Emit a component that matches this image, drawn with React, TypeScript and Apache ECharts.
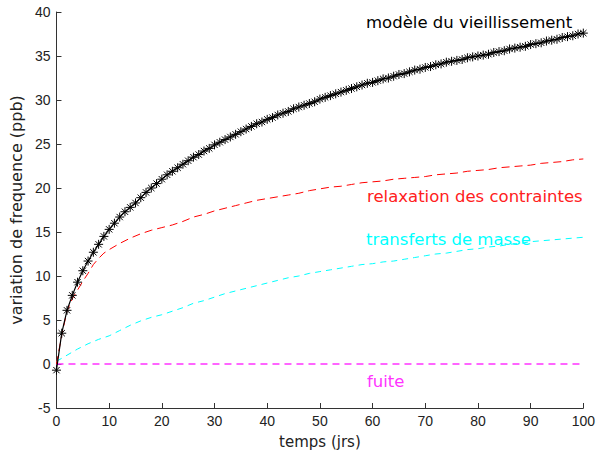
import React, { useEffect, useRef } from "react";
import * as echarts from "echarts";

const days: number[] = Array.from({ length: 101 }, (_, i) => i);

const vieillissement: number[] = [
  -0.7, 3.5, 6.1, 7.8, 9.3, 10.6, 11.7, 12.7, 13.6, 14.5,
  15.3, 16.0, 16.7, 17.3, 17.8, 18.3, 18.9, 19.5, 20.0, 20.5,
  21.0, 21.5, 21.9, 22.3, 22.7, 23.1, 23.5, 23.8, 24.2, 24.5,
  24.9, 25.2, 25.5, 25.8, 26.1, 26.4, 26.7, 27.0, 27.3, 27.5,
  27.8, 28.0, 28.3, 28.5, 28.7, 29.0, 29.2, 29.4, 29.6, 29.8,
  30.1, 30.3, 30.5, 30.7, 30.9, 31.1, 31.3, 31.5, 31.7, 31.9,
  32.0, 32.2, 32.4, 32.5, 32.7, 32.9, 33.0, 33.2, 33.4, 33.5,
  33.7, 33.8, 34.0, 34.1, 34.3, 34.4, 34.5, 34.6, 34.8, 34.9,
  35.0, 35.1, 35.2, 35.4, 35.5, 35.6, 35.8, 35.9, 36.0, 36.1,
  36.3, 36.4, 36.5, 36.7, 36.8, 36.9, 37.1, 37.2, 37.3, 37.5,
  37.6,
];

const relaxDays: number[] = [0, 1, 2, 3, 4, 5, 6, 7, 8, 9, 10, 12, 14, 16, 18, 20, 22, 24, 26, 28, 30, 32, 34, 36, 38, 40, 42, 44, 46, 48, 50, 52, 54, 56, 58, 60, 62, 64, 66, 68, 70, 72, 74, 76, 78, 80, 82, 84, 86, 88, 90, 92, 94, 96, 98, 100];
const relaxation: number[] = [
  0.0, 3.3, 6.0, 7.4, 8.4, 9.4, 10.3, 11.3, 12.0, 12.6, 13.0,
  13.7, 14.3, 14.8, 15.2, 15.5, 15.8, 16.2, 16.7, 17.0, 17.4,
  17.7, 18.0, 18.3, 18.6, 18.8, 19.0, 19.2, 19.4, 19.7, 19.9,
  20.1, 20.2, 20.4, 20.6, 20.7, 20.8, 21.0, 21.1, 21.2, 21.3,
  21.5, 21.6, 21.7, 21.9, 22.0, 22.1, 22.3, 22.4, 22.5, 22.6,
  22.8, 22.9, 23.0, 23.2, 23.3,
];

const transfDays: number[] = [0, 2, 4, 6, 8, 10, 12, 14, 16, 18, 20, 22, 24, 26, 28, 30, 32, 34, 36, 38, 40, 42, 44, 46, 48, 50, 52, 54, 56, 58, 60, 62, 64, 66, 68, 70, 72, 74, 76, 78, 80, 82, 84, 86, 88, 90, 92, 94, 96, 98, 100];
const transferts: number[] = [
  0.3, 1.0, 1.7, 2.3, 2.8, 3.2, 3.8, 4.4, 4.9, 5.3, 5.6,
  6.0, 6.4, 6.9, 7.2, 7.6, 8.0, 8.3, 8.6, 8.9, 9.2,
  9.5, 9.8, 10.0, 10.3, 10.5, 10.7, 10.9, 11.1, 11.3, 11.4,
  11.6, 11.7, 11.9, 12.1, 12.3, 12.5, 12.6, 12.8, 13.0, 13.1,
  13.3, 13.4, 13.6, 13.7, 13.9, 14.0, 14.1, 14.2, 14.3, 14.4,
];

const fuiteDays: number[] = [0, 100];
const fuite: number[] = [0, 0];

const xTicks = { min: 0, max: 100, interval: 10 };
const yTicks = { min: -5, max: 40, interval: 5 };

const labels = [
  { text: "modèle du vieillissement", color: "#000000" },
  { text: "relaxation des contraintes", color: "#ff2020" },
  { text: "transferts de masse", color: "#00ffff" },
  { text: "fuite", color: "#ff33ff" },
];

const ASTERISK = "path://M5,0L5,10M0,5L10,5M1.5,1.5L8.5,8.5M1.5,8.5L8.5,1.5";

export default function App() {
  const ref = useRef<HTMLDivElement>(null);
  useEffect(() => {
    if (!ref.current) return;
    const chart = echarts.init(ref.current, undefined, { renderer: "svg" });
    const pair = (xs: number[], ys: number[]) => xs.map((x, i) => [x, ys[i]]);
    const tickFont = { fontFamily: "Liberation Sans, Arial, sans-serif", fontSize: 14, color: "#222" };
    const labelFont = "16.5px 'DejaVu Sans', sans-serif";
    const labelPos = [
      { x: 366, y: 22 },
      { x: 367, y: 196 },
      { x: 366, y: 239 },
      { x: 367, y: 381 },
    ];
    chart.setOption({
      animation: false,
      backgroundColor: "#ffffff",
      grid: { left: 55, right: 12, top: 12, bottom: 52, containLabel: false },
      xAxis: {
        type: "value",
        ...xTicks,
        name: "temps (jrs)",
        nameLocation: "middle",
        nameGap: 26,
        nameTextStyle: { fontFamily: "DejaVu Sans, sans-serif", fontSize: 15, color: "#222" },
        axisLine: { onZero: false, lineStyle: { color: "#333", width: 1 } },
        axisTick: { inside: true, length: 5, lineStyle: { color: "#333" } },
        axisLabel: { ...tickFont, margin: 6 },
        splitLine: { show: false },
      },
      yAxis: {
        type: "value",
        ...yTicks,
        name: "variation de frequence (ppb)",
        nameLocation: "middle",
        nameGap: 29,
        nameTextStyle: { fontFamily: "DejaVu Sans, sans-serif", fontSize: 16, color: "#222" },
        axisLine: { onZero: false, lineStyle: { color: "#333", width: 1 } },
        axisTick: { inside: true, length: 5, lineStyle: { color: "#333" } },
        axisLabel: { ...tickFont, margin: 6 },
        splitLine: { show: false },
      },
      series: [
        {
          name: "fuite",
          type: "line",
          data: pair(fuiteDays, fuite),
          showSymbol: false,
          lineStyle: { color: "#ff33ff", width: 1.7, type: [7, 5] },
          z: 1,
        },
        {
          name: "transferts de masse",
          type: "line",
          data: pair(transfDays, transferts),
          showSymbol: false,
          lineStyle: { color: "#00ffff", width: 1, type: [6, 5] },
          z: 2,
        },
        {
          name: "relaxation des contraintes",
          type: "line",
          data: pair(relaxDays, relaxation),
          showSymbol: false,
          lineStyle: { color: "#ff0000", width: 1, type: [8, 5] },
          z: 3,
        },
        {
          name: "modèle du vieillissement",
          type: "line",
          data: pair(days, vieillissement),
          symbol: ASTERISK,
          symbolSize: 9,
          showAllSymbol: true,
          itemStyle: { color: "rgba(0,0,0,0)", borderColor: "#000", borderWidth: 1 },
          lineStyle: { color: "#000", width: 1.2 },
          z: 4,
        },
      ],
      graphic: labels.map((l, i) => ({
        type: "text",
        x: labelPos[i].x,
        y: labelPos[i].y,
        style: {
          text: l.text,
          fill: l.color,
          font: labelFont,
          align: "left",
          verticalAlign: "middle",
        },
        z: 10,
      })),
    });
    return () => chart.dispose();
  }, []);
  return (
    <div
      ref={ref}
      style={{ position: "fixed", left: 0, top: 0, width: 598, height: 460, background: "#fff" }}
    />
  );
}
